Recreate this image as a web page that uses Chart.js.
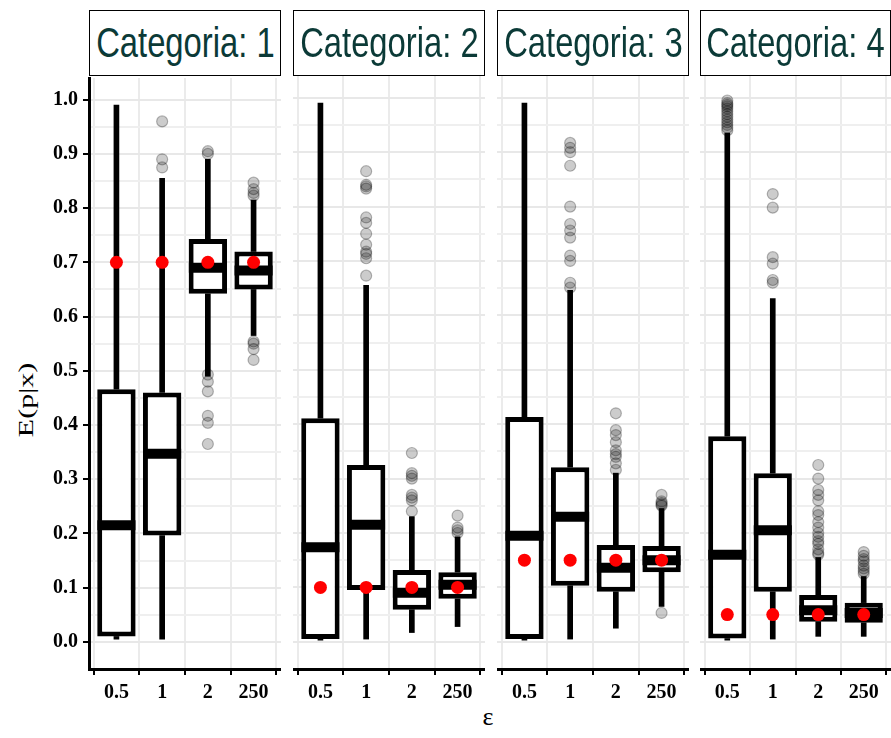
<!DOCTYPE html>
<html>
<head>
<meta charset="utf-8">
<script src="https://cdn.jsdelivr.net/npm/chart.js@4.4.1/dist/chart.umd.min.js"></script>
<style>
  body { margin: 0; background: #fff; width: 891px; height: 738px; overflow: hidden; position: relative; }
  canvas { position: absolute; }
  .strip {
    position: absolute; top: 10px; height: 66px; box-sizing: border-box;
    border: 1.5px solid #000; background: #fff; z-index: 2;
    display: flex; align-items: center; justify-content: center; overflow: hidden;
  }
  .strip span {
    font-family: 'Liberation Sans', Arial, sans-serif; font-size: 42px; color: #0b3a37;
    white-space: nowrap; display: inline-block; transform: scaleX(0.78);
  }
  #ytitle {
    position: absolute; left: 26px; top: 400px; white-space: nowrap;
    font-family: 'Liberation Serif', serif; font-size: 20px;
    transform: translate(-50%, -50%) rotate(-90deg) scaleX(1.5);
  }
  #xtitle {
    position: absolute; left: 488px; top: 717px; transform: translate(-50%, -50%);
    font-family: 'Liberation Serif', serif; font-size: 26px;
  }
</style>
</head>
<body>
<div id="ytitle">E(p|x)</div>
<div id="xtitle">ε</div>

<script>
// privacy budget on the x axis
const epsilon = ['0.5', '1', '2', '250'];
const facets = ['Categoria: 1', 'Categoria: 2', 'Categoria: 3', 'Categoria: 4'];
// true proportion for each category (red points)
const trueP = [0.7, 0.1, 0.15, 0.05];

// box statistics, one row per category, one value per epsilon
const whiskerLow = [
  [0.005, 0.005, 0.49, 0.565],
  [0.003, 0.005, 0.017, 0.028],
  [0.003, 0.005, 0.025, 0.065],
  [0.003, 0.005, 0.01, 0.01]
];
const q1 = [
  [0.01, 0.196, 0.642, 0.65],
  [0.005, 0.095, 0.059, 0.079],
  [0.005, 0.103, 0.092, 0.128],
  [0.006, 0.092, 0.037, 0.035]
];
const medians = [
  [0.215, 0.347, 0.69, 0.685],
  [0.174, 0.215, 0.09, 0.105],
  [0.195, 0.23, 0.136, 0.15],
  [0.16, 0.205, 0.058, 0.053]
];
const q3 = [
  [0.466, 0.46, 0.743, 0.72],
  [0.411, 0.325, 0.132, 0.128],
  [0.413, 0.321, 0.178, 0.176],
  [0.378, 0.31, 0.086, 0.072]
];
const whiskerHigh = [
  [0.99, 0.855, 0.89, 0.815],
  [0.99, 0.655, 0.23, 0.193],
  [0.99, 0.646, 0.31, 0.245],
  [0.935, 0.631, 0.155, 0.12]
];
const outliers = [
  [
    [],
    [0.96, 0.89, 0.875],
    [0.905, 0.9, 0.493, 0.48, 0.462, 0.417, 0.404, 0.365],
    [0.847, 0.835, 0.828, 0.823, 0.554, 0.55, 0.54, 0.52]
  ],
  [
    [],
    [0.865, 0.84, 0.837, 0.833, 0.78, 0.77, 0.75, 0.73, 0.717, 0.713, 0.705, 0.673],
    [0.347, 0.31, 0.305, 0.3, 0.27, 0.265, 0.26, 0.24],
    [0.232, 0.21, 0.205, 0.2]
  ],
  [
    [],
    [0.917, 0.908, 0.9, 0.875, 0.8, 0.768, 0.756, 0.743, 0.71, 0.7, 0.66, 0.651],
    [0.42, 0.389, 0.38, 0.367, 0.352, 0.345, 0.34, 0.328, 0.316],
    [0.27, 0.258, 0.255, 0.252, 0.25, 0.053]
  ],
  [
    [0.995, 0.99, 0.987, 0.984, 0.98, 0.975, 0.97, 0.965, 0.96, 0.955, 0.95, 0.945, 0.94],
    [0.823, 0.798, 0.707, 0.695, 0.665, 0.66],
    [0.325, 0.3, 0.279, 0.27, 0.26, 0.24, 0.233, 0.22, 0.21, 0.2, 0.193, 0.185, 0.18, 0.17, 0.163, 0.16],
    [0.165, 0.158, 0.152, 0.148, 0.14, 0.135, 0.13, 0.125]
  ]
];
// y grid every 0.05, labels every 0.1
const yGrid = [0, 0.05, 0.1, 0.15, 0.2, 0.25, 0.3, 0.35, 0.4, 0.45, 0.5, 0.55, 0.6, 0.65, 0.7, 0.75, 0.8, 0.85, 0.9, 0.95, 1.0];

// panel geometry on the page
const panelLeft = [89, 293, 497, 700];
const panelWidth = [192, 192, 192, 191];
const yAxisWidth = 89;
const topPad = 15;
const plotTop = 76;
const plotHeight = 593;
const xAxisHeight = 36;

const tickFont = { family: "'Liberation Serif', 'DejaVu Serif', serif", size: 20, weight: 'bold' };
const isMajor = v => Math.round(v * 100) % 10 === 0;

function drawPanel(k) {
  const strip = document.createElement('div');
  strip.className = 'strip';
  strip.style.left = panelLeft[k] + 'px';
  strip.style.width = panelWidth[k] + 'px';
  strip.innerHTML = '<span>' + facets[k] + '</span>';
  document.body.appendChild(strip);

  const withAxis = k === 0;
  const canvas = document.createElement('canvas');
  const w = panelWidth[k] + (withAxis ? yAxisWidth : 0);
  const h = topPad + plotHeight + xAxisHeight;
  canvas.width = w;
  canvas.height = h;
  canvas.style.width = w + 'px';
  canvas.style.height = h + 'px';
  canvas.style.left = (panelLeft[k] - (withAxis ? yAxisWidth : 0)) + 'px';
  canvas.style.top = (plotTop - topPad) + 'px';
  document.body.appendChild(canvas);

  const xs = epsilon.map((_, i) => i + 1);
  const whiskers = [];
  xs.forEach((x, i) => {
    whiskers.push({ x: x, y: [whiskerLow[k][i], q1[k][i]] });
    whiskers.push({ x: x, y: [q3[k][i], whiskerHigh[k][i]] });
  });
  const boxes = xs.map((x, i) => ({ x: x, y: [q1[k][i], q3[k][i]] }));
  const meds = xs.map((x, i) => ({ x: x, y: medians[k][i] }));
  const outs = [];
  xs.forEach((x, i) => outliers[k][i].forEach(v => outs.push({ x: x, y: v })));
  const truth = xs.map(x => ({ x: x, y: trueP[k] }));

  new Chart(canvas, {
    type: 'bar',
    data: {
      datasets: [
        {
          data: whiskers, order: 5, grouped: false, barThickness: 5,
          backgroundColor: '#000', borderWidth: 0
        },
        {
          data: boxes, order: 4, grouped: false, categoryPercentage: 1, barPercentage: 0.84,
          backgroundColor: '#fff', borderColor: '#000', borderWidth: 5, borderSkipped: false
        },
        {
          type: 'scatter', data: meds, order: 3,
          pointStyle: 'line', pointRadius: 19, borderWidth: 10, borderColor: '#000'
        },
        {
          type: 'scatter', data: outs, order: 2,
          pointRadius: 5.5, backgroundColor: 'rgba(0,0,0,0.2)', borderColor: 'rgba(0,0,0,0.28)', borderWidth: 1.2
        },
        {
          type: 'scatter', data: truth, order: 1,
          pointRadius: 6.5, backgroundColor: '#ff0000', borderColor: '#ff0000', borderWidth: 0
        }
      ]
    },
    options: {
      responsive: false,
      animation: false,
      devicePixelRatio: 1,
      layout: { autoPadding: false, padding: { top: topPad, left: 0, right: 0, bottom: 0 } },
      plugins: { legend: { display: false }, tooltip: { enabled: false } },
      scales: {
        x: {
          type: 'linear', min: 0.4, max: 4.6, offset: false,
          afterBuildTicks: s => { s.ticks = xs.map(v => ({ value: v })); },
          afterFit: s => { s.height = xAxisHeight; },
          ticks: {
            callback: v => epsilon[v - 1], font: tickFont, color: '#000',
            padding: 6, maxRotation: 0, autoSkip: false
          },
          grid: { color: '#ebebeb', lineWidth: 2, tickColor: '#000', tickLength: 6, tickWidth: 2 },
          border: { display: true, color: '#000', width: 3 }
        },
        y: {
          min: -0.05, max: 1.04,
          afterBuildTicks: s => { s.ticks = yGrid.map(v => ({ value: v })); },
          afterFit: s => { s.width = withAxis ? yAxisWidth : 0; },
          ticks: {
            display: withAxis,
            callback: v => isMajor(v) ? v.toFixed(1) : '',
            font: tickFont, color: '#000', padding: 5, autoSkip: false
          },
          grid: {
            color: c => isMajor(c.tick.value) ? '#e8e8e8' : '#efefef',
            lineWidth: 2,
            drawTicks: withAxis,
            tickLength: 6, tickWidth: 2,
            tickColor: c => isMajor(c.tick.value) ? '#000' : 'rgba(0,0,0,0)'
          },
          border: { display: withAxis, color: '#000', width: 3 }
        }
      }
    }
  });
}

facets.forEach((_, k) => drawPanel(k));
</script>
</body>
</html>
